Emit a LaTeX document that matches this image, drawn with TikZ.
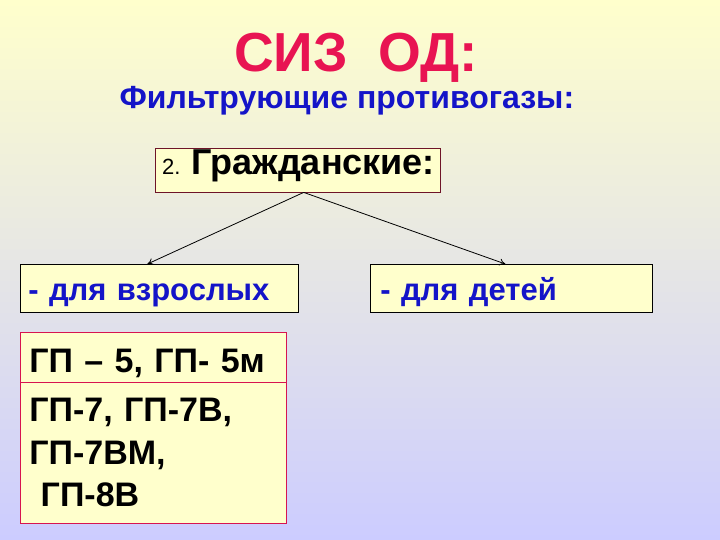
\documentclass[tikz,border=0pt]{standalone}
\usepackage{fontspec}
\setmainfont{Liberation Sans}
\usetikzlibrary{arrows.meta, calc, positioning}
\definecolor{paleyellow}{RGB}{255,255,204}
\definecolor{lavender}{RGB}{204,204,255}
\definecolor{titlered}{RGB}{232,20,82}
\definecolor{textblue}{RGB}{20,20,200}
\definecolor{boxred}{RGB}{215,20,80}
\definecolor{darkframe}{RGB}{110,20,40}

\tikzset{
  yellowbox/.style={fill=paleyellow, inner ysep=0pt, anchor=north west, align=left},
  blueword/.style={text=textblue, font=\bfseries\fontsize{31}{36}\selectfont}
}

\begin{document}
\begin{tikzpicture}[x=1pt, y=-1pt]
        \shade[top color=paleyellow, bottom color=lavender, middle color=paleyellow!50!lavender] (0,0) rectangle (720,540);
        \useasboundingbox (0,0) rectangle (720,540);

        \node[anchor=base, text=titlered, font=\bfseries\fontsize{55}{60}\selectfont] (title) at (356,72) {СИЗ\ \ ОД:};
        \node[anchor=base west, text=textblue, font=\bfseries\fontsize{32}{34}\selectfont] (filter) at (116,109) {Фильтрующие противогазы:};

        \node[yellowbox, draw=darkframe, minimum width=285, minimum height=44, inner xsep=7, text width=271, text height=26, text depth=18] (civil) at (155,148)
            {{\fontsize{22}{24}\selectfont 2.}\hspace{11pt}{\bfseries\fontsize{36}{40}\selectfont Гражданские:}};

        \node[yellowbox, blueword, draw, thick, minimum width=278, minimum height=48, inner xsep=8, text width=262, text height=36, text depth=12] (adult) at (20,264) {- для взрослых};
        \node[yellowbox, blueword, draw, thick, minimum width=282, minimum height=48, inner xsep=10, text width=262, text height=36, text depth=12] (child) at (370,264) {- для детей};

        \node[yellowbox, draw=boxred, thick, minimum width=266, minimum height=50, inner xsep=9, text width=248, text height=40, text depth=10, font=\bfseries\fontsize{34}{42}\selectfont] (gp5) at (20,332) {ГП – 5, ГП- 5м};
        \node[yellowbox, draw=boxred, thick, minimum width=266, minimum height=141, inner xsep=9, text width=248, font=\bfseries\fontsize{34}{42.5}\selectfont] (gp7) at (20,382)
            {ГП-7, ГП-7В,\\ГП-7ВМ,\\\ ГП-8В};

        \draw[-{To[length=6pt, width=7pt]}, thick] ([xshift=6pt]civil.south) -- ([xshift=-12pt]adult.north);
        \draw[-{To[length=6pt, width=7pt]}, thick] ([xshift=6pt]civil.south) -- ([xshift=-6pt]child.north);
\end{tikzpicture}
\end{document}
